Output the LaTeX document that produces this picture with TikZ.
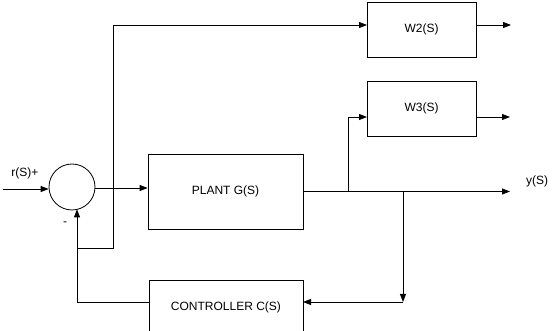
\documentclass[tikz,border=0pt]{standalone}
\usepackage{fontspec}
\setmainfont{Liberation Sans}
\usetikzlibrary{arrows.meta,calc}
\begin{document}
\begin{tikzpicture}[x=1pt,y=-1pt,
  line width=0.8pt,
  blk/.style={draw,rectangle,inner sep=0pt,font=\fontsize{12}{14}\selectfont},
  lbl/.style={inner sep=0pt,font=\fontsize{12}{14}\selectfont},
  arr/.style={-{Triangle[length=8pt,width=6pt]}}]
\useasboundingbox (0,0) rectangle (555,331);
\clip (0,0) rectangle (555,331);
% blocks
\node[draw,circle,minimum size=46pt,inner sep=0pt] (sum) at (72,187) {};
\node[blk,minimum width=155pt,minimum height=75pt] (plant) at (225.5,191.5) {PLANT G(S)};
\node[blk,minimum width=109pt,minimum height=55pt] (w2) at (421.5,29.5) {W2(S)};
\node[blk,minimum width=109pt,minimum height=55pt] (w3) at (421.5,108.5) {W3(S)};
\node[blk,minimum width=154pt,minimum height=54pt] (ctrl) at (226,307) {CONTROLLER C(S)};
% labels
\node[lbl] (rlab) at (25,173) {r(S)+};
\node[lbl] (mlab) at (65,224) {-};
\node[lbl] (ylab) at (537,181) {y(S)};
% coordinates
\coordinate (in) at (3,189);
\coordinate (yout) at (510,191.5);
\coordinate (b3) at (348,191.5);
\coordinate (w3in) at (367,117);
\coordinate (w3out) at (476,117);
\coordinate (w3end) at (510,117);
\coordinate (w2in) at (367,25);
\coordinate (w2out) at (476,25);
\coordinate (w2end) at (511,25);
\coordinate (b1) at (403,191.5);
\coordinate (corner) at (403,302);
\coordinate (cin) at (303,302);
\coordinate (cout) at (149,302);
\coordinate (fbc) at (77,302);
\coordinate (fbj) at (77,248);
\coordinate (up) at (113,248);
\coordinate (upt) at (113,25);
\coordinate (sumb) at (77,209.4);
% connectors
\draw[arr] (in) -- (in -| sum.west);
\draw[arr] (sum.east |- 0,188) -- (plant.west |- 0,188);
\draw[arr] (plant.east) -- (yout);
\draw[arr] (b3) |- (w3in);
\draw[arr] (w3out) -- (w3end);
\draw[arr] (fbj) -- (up) -- (upt) -- (w2in);
\draw[arr] (w2out) -- (w2end);
\draw[arr] (b1) -- (corner);
\draw[arr] (corner) -- (cin);
\draw[arr] (cout) -- (fbc) -- (sumb);
\end{tikzpicture}
\end{document}
